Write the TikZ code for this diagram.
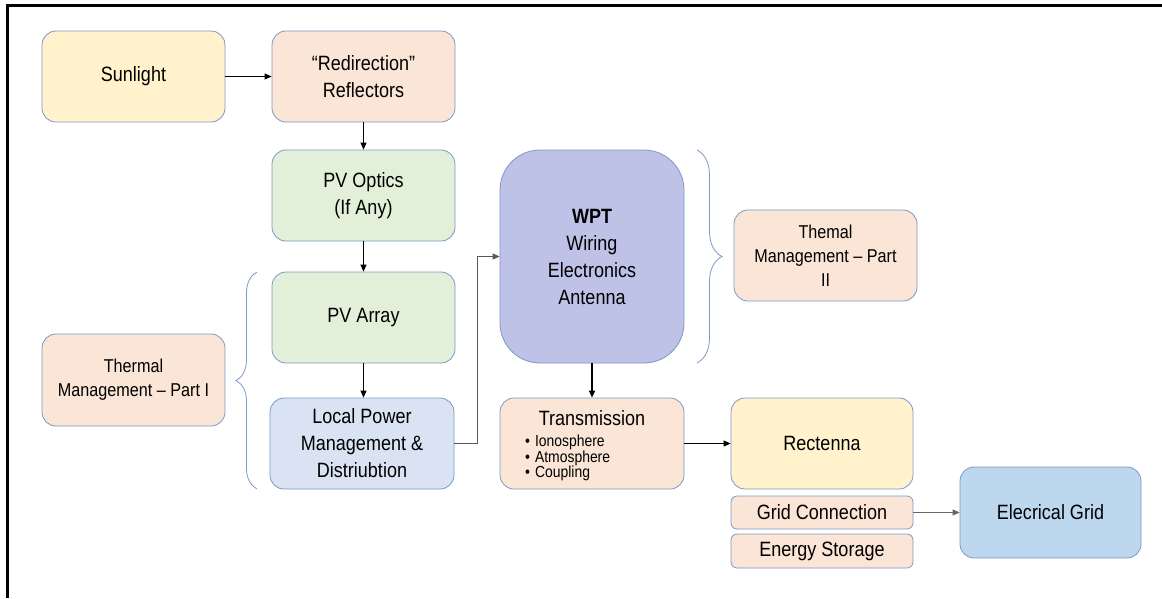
\documentclass[tikz,border=0pt]{standalone}
\usepackage{fontspec}
% narrowed face, so glyphs come out tall as well as at the right width
\setmainfont{Liberation Sans}[FakeStretch=0.87]
\usetikzlibrary{arrows.meta,decorations.pathreplacing}

\definecolor{edgeblue}{HTML}{7C98C4}
\definecolor{cream}{HTML}{FFF2CC}
\definecolor{peach}{HTML}{FBE5D6}
\definecolor{mint}{HTML}{E2F0D9}
\definecolor{paleblue}{HTML}{DAE3F3}
\definecolor{lavender}{HTML}{BFC2E7}
\definecolor{skyblue}{HTML}{BDD7EE}

\tikzset{
  box/.style={draw=edgeblue, line width=0.8pt, rounded corners=14pt,
    minimum width=183pt, minimum height=91pt, inner sep=2pt, align=center,
    font=\fontsize{20.7}{27}\selectfont},
  smallbox/.style={box, rounded corners=6pt, minimum height=33pt},
  thermal/.style={box, fill=peach, font=\fontsize{18.6}{24}\selectfont},
  arr/.style={-{Triangle[length=7pt,width=6pt]}, line width=0.9pt, black},
  bracket/.style={draw=edgeblue, line width=0.8pt,
    decorate, decoration={brace, amplitude=#1}},
}

\begin{document}
\begin{tikzpicture}[x=1pt, y=-1pt]
\useasboundingbox (0,0) rectangle (1162,598);

% page frame
\draw[line width=3pt] (7,598) -- (7,5.5) -- (1162,5.5);

% blocks
\node[box, fill=cream] (sun) at (133.5,76.5) {Sunlight};
\node[box, fill=peach] (refl) at (363.5,76.5) {“Redirection”\\Reflectors};
\node[box, fill=mint] (optics) at (363.5,195.5) {PV Optics\\(If Any)};
\node[box, fill=mint] (array) at (363.5,317.5) {PV Array};
\node[box, fill=paleblue, minimum width=184pt] (lpm) at (362,443.5)
  {Local Power\\Management \&\\Distriubtion};
\node[thermal, minimum height=92pt] (th1) at (133.5,380) {Thermal\\Management -- Part I};
\node[box, fill=lavender, rounded corners=40pt, minimum width=184pt,
  minimum height=213pt] (wpt) at (592,256.5)
  {\textbf{WPT}\\Wiring\\Electronics\\Antenna};
\node[thermal] (th2) at (825.5,255.5) {Themal\\Management -- Part\\II};
\node[box, fill=peach, minimum width=184pt] (tx) at (592,443.5) {};
\node[font=\fontsize{20.7}{27}\selectfont, inner sep=0pt] (txtitle) at (592,418) {Transmission};
\node[anchor=west, align=left, inner sep=0pt,
  font=\fontsize{16}{15.5}\selectfont] (txlist) at (525,458)
  {•\hspace{5pt}Ionosphere\\•\hspace{5pt}Atmosphere\\•\hspace{5pt}Coupling};
\node[box, fill=cream, minimum width=182pt] (rect) at (822,443.5) {Rectenna};
\node[smallbox, fill=peach, minimum width=182pt] (gridc) at (822,512.5) {Grid Connection};
\node[smallbox, fill=peach, minimum width=182pt, minimum height=34pt] (store) at (822,551) {Energy Storage};
\node[box, fill=skyblue, minimum width=181pt] (egrid) at (1050.5,512.5) {Elecrical Grid};

% braces grouping the thermal scopes
\draw[bracket=21pt] (257,489) -- (257,272);
\draw[bracket=25pt] (697,150) -- (697,363);

% connectors
\draw[arr] (sun) -- (refl);
\draw[arr] (refl) -- (optics);
\draw[arr] (optics) -- (array);
\draw[arr] (array.south) -- (lpm.north -| array.south);
\draw[arr, draw=black!65] (lpm.east) -- ++(23,0) |- (wpt.west);
\draw[arr, line width=1.8pt] (wpt) -- (tx);
\draw[arr] (tx) -- (rect);
\draw[arr, draw=black!60] (gridc) -- (egrid);
\end{tikzpicture}
\end{document}
